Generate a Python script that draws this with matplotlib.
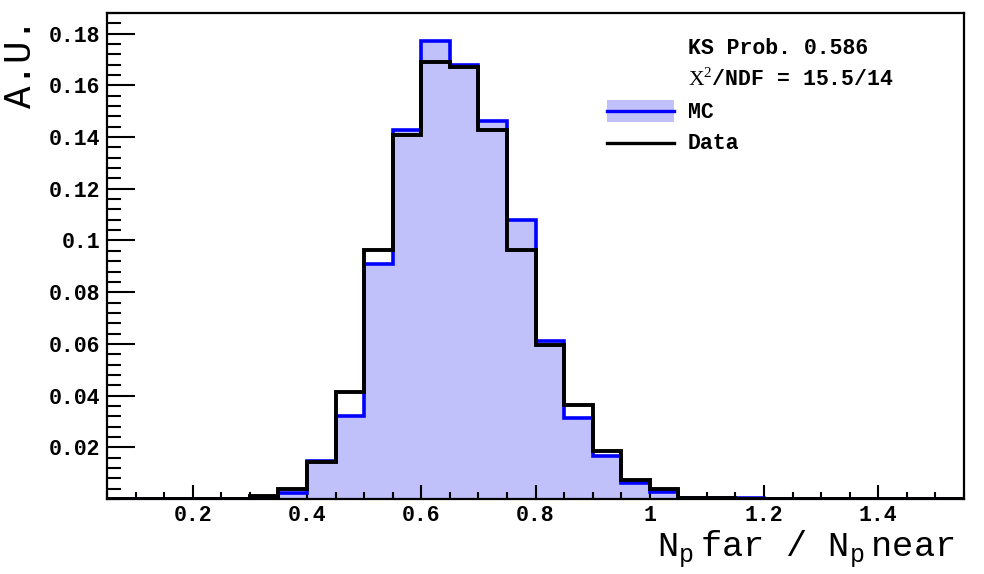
import numpy as np
import matplotlib
matplotlib.use("Agg")
import matplotlib.pyplot as plt
from matplotlib.ticker import FixedLocator, MultipleLocator, FuncFormatter
from matplotlib.patches import Rectangle
from matplotlib.lines import Line2D

plt.rcParams['mathtext.fontset'] = 'custom'
plt.rcParams['mathtext.rm'] = 'Liberation Mono'
plt.rcParams['mathtext.sf'] = 'Liberation Serif'

# ---- data ----
bin_edges = [round(0.05 + 0.05 * i, 2) for i in range(31)]
mc_values = [0, 0, 0, 0, 0,            # 0.05-0.30
             0.0003, 0.0023, 0.0148, 0.0322, 0.0910,
             0.1429, 0.1770, 0.1680, 0.1463, 0.1079,
             0.0610, 0.0313, 0.0165, 0.0062, 0.0027,
             0.0005, 0.0004, 0.0003, 0, 0,
             0, 0, 0, 0, 0]
data_values = [0, 0, 0, 0, 0,
               0.0010, 0.0039, 0.0143, 0.0414, 0.0964,
               0.1409, 0.1690, 0.1671, 0.1429, 0.0963,
               0.0594, 0.0362, 0.0187, 0.0075, 0.0040,
               0.0004, 0.0002, 0.0001, 0, 0,
               0, 0, 0, 0, 0]
x_ticks = [0.2, 0.4, 0.6, 0.8, 1.0, 1.2, 1.4]
y_ticks = [0.02, 0.04, 0.06, 0.08, 0.10, 0.12, 0.14, 0.16, 0.18]
ks_text = "KS Prob. 0.586"
chi2_text = r"$\mathsf{X}^{\mathsf{2}}$/NDF = 15.5/14"

W, H = 984, 574
fig = plt.figure(figsize=(W / 100, H / 100), dpi=100)
ax = fig.add_axes([107 / W, 1 - 499 / H, (964 - 107) / W, (499 - 13) / H])

fill_col = '#c0c0fa'
ax.stairs(mc_values, bin_edges, fill=True, color=fill_col, linewidth=0, zorder=1)
ax.stairs(mc_values, bin_edges, color='#0000ff', linewidth=2.6, zorder=2)
ax.stairs(data_values, bin_edges, color='black', linewidth=2.8, zorder=3)

ax.set_xlim(0.05, 1.55)
ax.set_ylim(0, 0.188)

mono = 'Liberation Mono'
ax.xaxis.set_major_locator(FixedLocator(x_ticks))
ax.xaxis.set_minor_locator(MultipleLocator(0.05))
ax.yaxis.set_major_locator(FixedLocator(y_ticks))
ax.yaxis.set_minor_locator(MultipleLocator(0.004))
fmt = FuncFormatter(lambda v, p: "%g" % round(v, 4))
ax.xaxis.set_major_formatter(fmt)
ax.yaxis.set_major_formatter(fmt)

ax.tick_params(axis='both', which='both', direction='in', top=False, right=False,
               width=1.5, colors='black')
ax.tick_params(axis='y', which='major', length=20, pad=5)
ax.tick_params(axis='y', which='minor', length=10)
ax.tick_params(axis='x', which='major', length=10, pad=4)
ax.tick_params(axis='x', which='minor', length=5)
for lab in ax.get_xticklabels() + ax.get_yticklabels():
    lab.set_fontfamily(mono)
    lab.set_fontweight('bold')
    lab.set_fontsize(15.5)
for s in ax.spines.values():
    s.set_linewidth(1.6)

# axis titles
fig.text(21 / W, 1 - 18 / H, "A.U.", rotation=90, ha='center', va='top',
         fontfamily=mono, fontsize=27)
fig.text(955 / W, 1 - 557 / H, r"N$_{\mathrm{p}}\,$far / N$_{\mathrm{p}}\,$near",
         ha='right', va='baseline', fontfamily=mono, fontsize=25.5)

# legend / statistics
tx = 688 / W
fig.text(tx, 1 - 48 / H, ks_text, ha='left', va='center', fontfamily=mono,
         fontweight='bold', fontsize=15.5)
fig.text(tx, 1 - 79 / H, chi2_text, ha='left', va='center', fontfamily=mono,
         fontweight='bold', fontsize=15.5)
fig.text(tx, 1 - 112 / H, "MC", ha='left', va='center', fontfamily=mono,
         fontweight='bold', fontsize=15.5)
fig.text(tx, 1 - 143 / H, "Data", ha='left', va='center', fontfamily=mono,
         fontweight='bold', fontsize=15.5)
fig.patches.append(Rectangle((607 / W, 1 - 122 / H), 67 / W, 22 / H,
                             transform=fig.transFigure, facecolor=fill_col,
                             edgecolor='none'))
fig.lines.append(Line2D([607 / W, 674 / W], [1 - 111 / H, 1 - 111 / H],
                        transform=fig.transFigure, color='#0000ff', linewidth=2.4))
fig.lines.append(Line2D([607 / W, 674 / W], [1 - 143 / H, 1 - 143 / H],
                        transform=fig.transFigure, color='black', linewidth=2.4))

fig.savefig("out.png", dpi=100)
